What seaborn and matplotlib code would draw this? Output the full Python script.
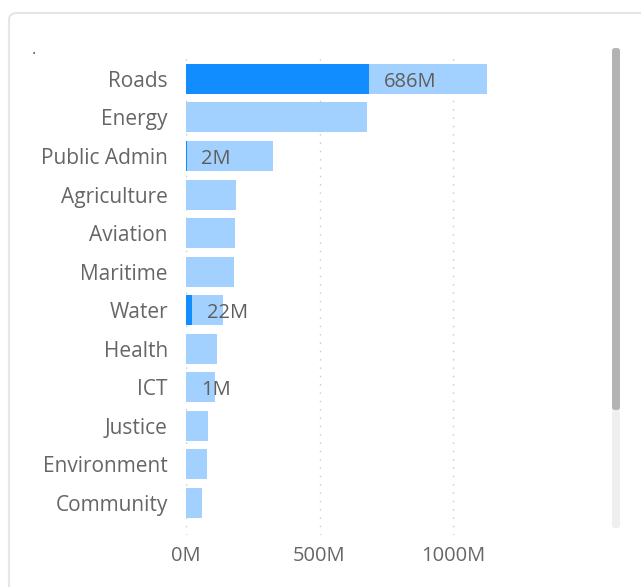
import matplotlib
matplotlib.use("Agg")
import matplotlib.pyplot as plt
import seaborn as sns
import pandas as pd
from matplotlib.patches import FancyBboxPatch

categories = ["Roads", "Energy", "Public Admin", "Agriculture", "Aviation", "Maritime",
              "Water", "Health", "ICT", "Justice", "Environment", "Community"]
total_values = [1127, 678, 326, 187, 184, 180, 139, 115, 109, 82, 79, 60]
highlight_values = [686, 0, 2, 0, 0, 0, 22, 0, 1, 0, 0, 0]
x_ticks = [0, 500, 1000]
tick_labels = ["0M", "500M", "1000M"]

df = pd.DataFrame({"category": categories, "total": total_values, "highlight": highlight_values})

sns.set_theme(style="white")
plt.rcParams["font.family"] = ["Open Sans", "DejaVu Sans"]

W, H = 641, 587
fig = plt.figure(figsize=(W / 100, H / 100), dpi=100)
fig.patch.set_facecolor("white")

# card
card = FancyBboxPatch((9 / W, -0.05), 1.0, 1 - 13 / H + 0.05,
                      boxstyle="round,pad=0,rounding_size=0.012",
                      transform=fig.transFigure, facecolor="none",
                      edgecolor="#e6e6e6", linewidth=1.5, zorder=-1)
fig.patches.append(card)

left, right = 186 / W, 575 / W
top, bottom = 1 - 55 / H, 1 - 535 / H
ax = fig.add_axes([left, bottom, right - left, top - bottom])
ax.set_facecolor("none")
ax.set_zorder(2)

light = "#a3d1ff"
dark = "#118dff"
sns.barplot(data=df, x="total", y="category", orient="h", color=light,
            width=0.78, saturation=1, linewidth=0, edgecolor="none", ax=ax, zorder=2)
sns.barplot(data=df, x="highlight", y="category", orient="h", color=dark,
            width=0.78, saturation=1, linewidth=0, edgecolor="none", ax=ax, zorder=3)

xmax = (575 - 186) / 0.267
ax.set_xlim(0, xmax)
ax.set_ylim(11.83, -0.62)

for xt in x_ticks:
    ax.axvline(xt, color="#c8c8c8", linestyle=(0, (1, 5)), linewidth=1.0, zorder=1)

for i, (c, h) in enumerate(zip(categories, highlight_values)):
    if h > 0:
        ax.text(h + 55, i + 0.08, f"{h}M", va="center", ha="left", fontsize=14.5,
                color="#605e5c", zorder=4)

ax.set_xticks(x_ticks)
ax.set_xticklabels(tick_labels)
ax.tick_params(axis="x", colors="#666666", labelsize=14.5, length=0, pad=8)
ax.tick_params(axis="y", colors="#666666", labelsize=15, length=0, pad=13)
ax.set_xlabel("")
ax.set_ylabel("")
for s in ax.spines.values():
    s.set_visible(False)

fig.text(34 / W, 1 - 50 / H, ".", fontsize=12, color="#605e5c", ha="center", va="center")

# scrollbar
track = FancyBboxPatch((612 / W, 1 - 528 / H), 8 / W, (528 - 48) / H,
                       boxstyle="round,pad=0,rounding_size=0.005",
                       transform=fig.transFigure, facecolor="#efefef",
                       edgecolor="none", zorder=5)
thumb = FancyBboxPatch((612 / W, 1 - 410 / H), 8 / W, (410 - 48) / H,
                       boxstyle="round,pad=0,rounding_size=0.005",
                       transform=fig.transFigure, facecolor="#b3b3b3",
                       edgecolor="none", zorder=6)
fig.patches.extend([track, thumb])

fig.savefig("out.png", dpi=100, facecolor="white")
